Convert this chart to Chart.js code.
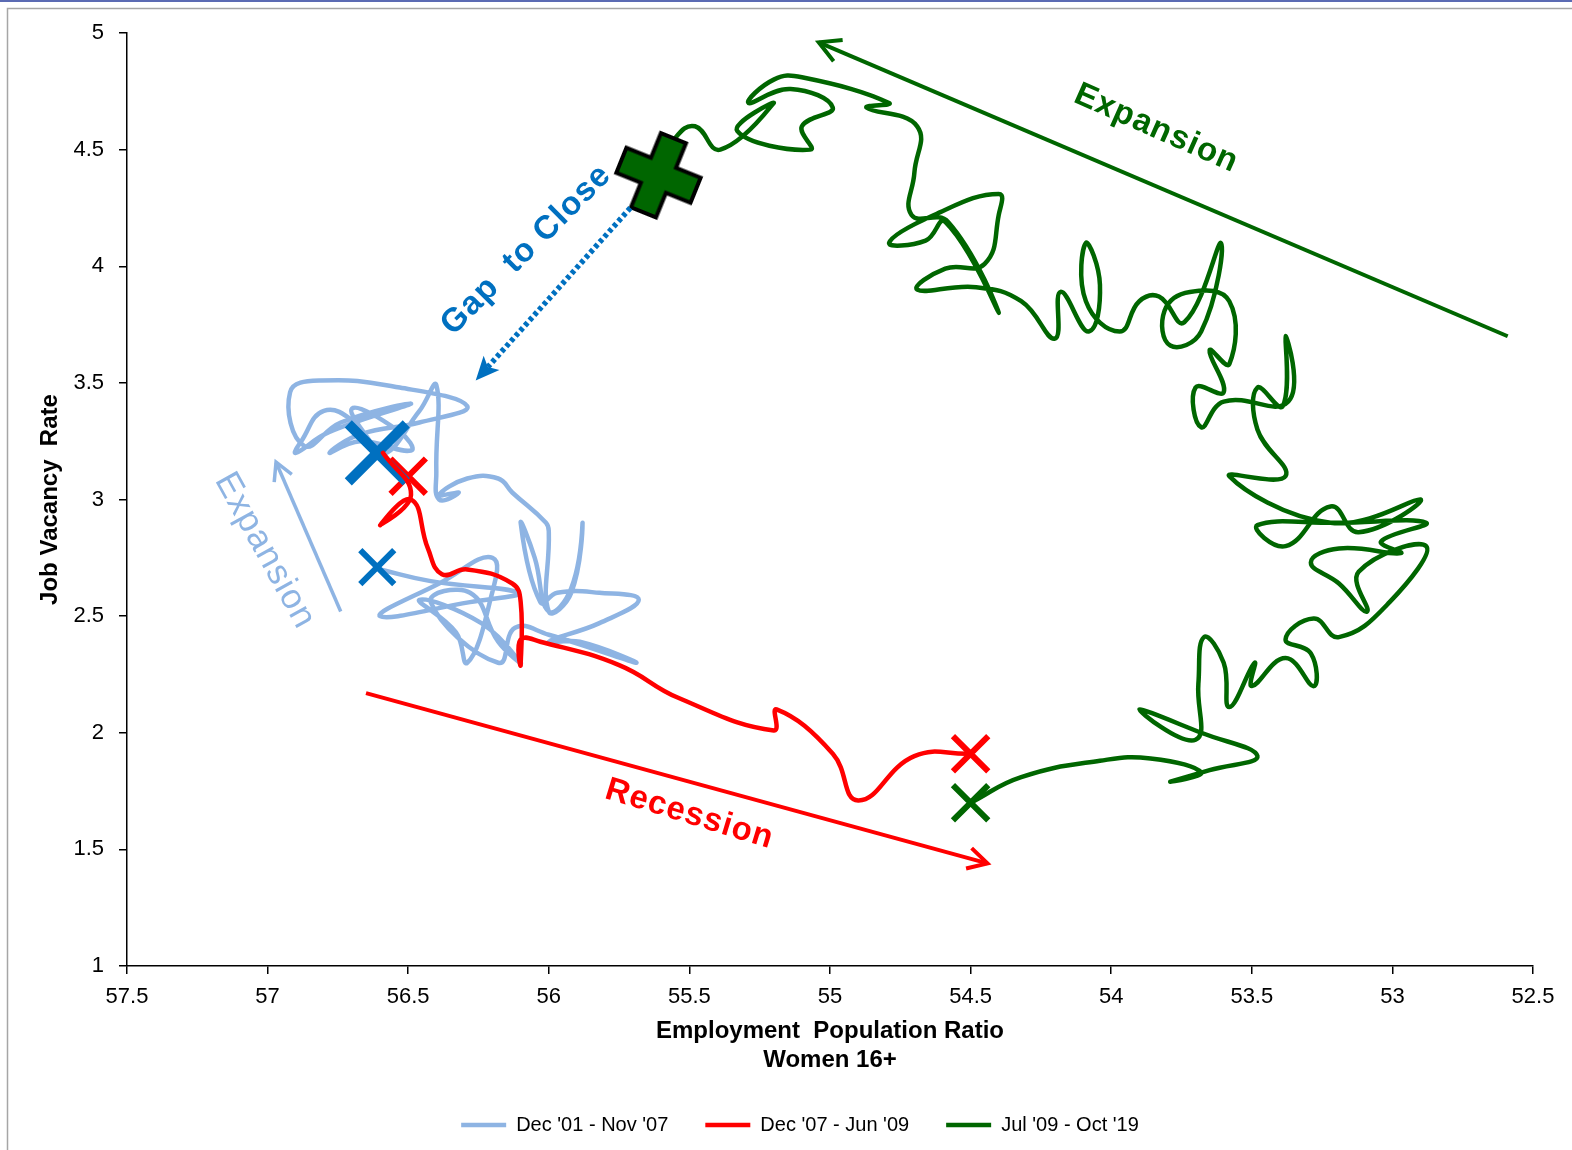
<!DOCTYPE html>
<html>
<head>
<meta charset="utf-8">
<script src="https://cdn.jsdelivr.net/npm/chart.js@4.4.1/dist/chart.umd.min.js"></script>
<style>
html,body{margin:0;padding:0;background:#fff;}
#wrap{width:1572px;height:1150px;position:relative;}
</style>
</head>
<body>
<div id="wrap"><canvas id="c" width="1572" height="1150"></canvas></div>
<script>
// ---------------- DATA ----------------
const xTicks = [57.5, 57, 56.5, 56, 55.5, 55, 54.5, 54, 53.5, 53, 52.5];
const yTicks = [1, 1.5, 2, 2.5, 3, 3.5, 4, 4.5, 5];
const seriesNames = ["Dec '01 - Nov '07", "Dec '07 - Jun '09", "Jul '09 - Oct '19"];

// Dec '01 - Nov '07
const blueEmp = [56.60,56.42,56.11,56.28,56.60,56.39,56.20,56.21,56.29,56.33,56.46,56.24,56.10,56.18,56.28,56.42,56.18,56.12,56.00,55.69,55.89,56.00,55.82,55.68,55.82,55.97,56.03,56.10,56.05,56.00,55.92,55.88,55.92,56.00,56.00,56.01,56.13,56.18,56.29,56.39,56.32,56.39,56.40,56.40,56.46,56.60,56.69,56.80,56.88,56.90,56.78,56.49,56.74,56.87,56.92,56.81,56.53,56.29,56.46,56.67,56.78,56.67,56.49,56.53,56.70,56.61];
const blueVac = [2.70,2.65,2.60,2.56,2.50,2.64,2.75,2.56,2.30,2.43,2.57,2.47,2.30,2.39,2.60,2.56,2.30,2.45,2.42,2.30,2.39,2.39,2.47,2.57,2.60,2.60,2.56,2.90,2.75,2.52,2.62,2.90,2.60,2.52,2.86,2.90,3.03,3.09,3.09,3.02,3.03,3.00,3.12,3.49,3.38,3.19,3.33,3.38,3.25,3.20,3.29,3.41,3.33,3.23,3.46,3.51,3.48,3.40,3.33,3.28,3.20,3.25,3.21,3.29,3.39,3.20];

// Dec '07 - Jun '09
const redEmp = [56.59,56.49,56.60,56.49,56.43,56.38,56.29,56.13,56.10,56.10,56.10,56.03,55.75,55.54,55.20,55.19,54.99,54.90,54.70,54.50];
const redVac = [3.20,3.02,2.89,3.00,2.79,2.68,2.70,2.64,2.56,2.29,2.40,2.39,2.29,2.15,2.01,2.10,1.91,1.71,1.90,1.91];

// Jul '09 - Oct '19
const greenEmp = [54.50,54.32,54.04,53.86,53.68,53.79,53.65,53.48,53.68,53.90,53.70,53.69,53.67,53.60,53.58,53.49,53.50,53.38,53.28,53.29,53.38,53.28,53.19,53.01,52.88,53.12,53.09,53.19,53.29,53.19,52.97,53.04,52.88,53.19,53.48,53.38,53.22,53.12,52.90,53.22,53.58,53.38,53.48,53.48,53.39,53.38,53.37,53.60,53.68,53.70,53.60,53.65,53.58,53.58,53.72,53.81,53.79,53.68,53.61,53.74,53.83,53.90,53.97,54.09,54.09,54.04,54.08,54.18,54.20,54.32,54.48,54.69,54.59,54.45,54.40,54.40,54.63,54.79,54.66,54.59,54.40,54.58,54.71,54.70,54.69,54.87,54.79,55.10,55.20,55.29,55.14,54.99,55.10,55.07,55.33,55.20,55.39,55.48,55.55,55.62];
const greenVac = [1.70,1.81,1.88,1.89,1.83,1.79,1.84,1.90,2.00,2.10,1.97,2.21,2.41,2.30,2.11,2.30,2.20,2.32,2.20,2.34,2.40,2.49,2.41,2.56,2.80,2.69,2.52,2.64,2.73,2.79,2.77,2.82,2.90,2.90,2.89,2.80,2.97,2.86,3.00,2.90,3.10,3.10,3.30,3.48,3.40,3.70,3.42,3.42,3.31,3.48,3.46,3.64,3.58,3.85,3.89,3.81,3.66,3.72,4.10,3.76,3.87,3.85,3.72,3.85,4.10,3.92,3.72,3.89,3.69,3.85,3.91,3.90,3.99,4.01,4.22,4.31,4.22,4.10,4.11,4.19,3.80,4.19,4.22,4.40,4.60,4.68,4.70,4.81,4.80,4.70,4.76,4.68,4.60,4.50,4.58,4.70,4.50,4.60,4.55,4.39];

// highlighted points [employment, vacancy]
const blueStartPt = [56.61, 2.71];
const blueEndPt = [56.61, 3.20];
const redStartPt = [56.50, 3.10];
const redEndPt = [54.50, 1.91];
const greenStartPt = [54.50, 1.70];
const greenNowPt = [55.61, 4.39];

// ---------------- ANNOTATIONS (data space) ----------------
const arrowList = [
  {from:[52.59,3.70], to:[55.04,4.96], color:'#006600', width:4, head:'open', len:24},
  {from:[56.65,2.17], to:[54.44,1.44], color:'#FF0000', width:4, head:'open', len:22},
  {from:[56.74,2.52], to:[56.97,3.16], color:'#8EB4E3', width:3.5, head:'open', len:20},
  {from:[55.71,4.25], to:[56.26,3.51], color:'#0070C0', width:5.5, head:'filled', len:26, dash:[4,3]}
];
const labelList = [
  {text:'Expansion', at:[53.84,4.59], angle:24, color:'#006600', font:'bold 33px "Liberation Sans", Arial, sans-serif'},
  {text:'Recession', at:[55.50,1.65], angle:17, color:'#FF0000', font:'bold 33px "Liberation Sans", Arial, sans-serif'},
  {text:'Gap  to Close', at:[56.08,4.07], angle:-45, color:'#0070C0', font:'bold 33px "Liberation Sans", Arial, sans-serif'},
  {text:'Expansion', at:[57.01,2.78], angle:61, color:'#8EB4E3', font:'35px "Liberation Sans", Arial, sans-serif'}
];

// ---------------- BUILD ----------------
const toPts = (xs, ys) => xs.map((x, i) => ({x, y: ys[i]}));
const pt = p => [{x: p[0], y: p[1]}];

function makePlus() {
  const c = document.createElement('canvas');
  c.width = 100; c.height = 100;
  const g = c.getContext('2d');
  const m = 50, L = 40, W = 13.5;
  g.beginPath();
  g.moveTo(m-W, m-L); g.lineTo(m+W, m-L); g.lineTo(m+W, m-W); g.lineTo(m+L, m-W);
  g.lineTo(m+L, m+W); g.lineTo(m+W, m+W); g.lineTo(m+W, m+L); g.lineTo(m-W, m+L);
  g.lineTo(m-W, m+W); g.lineTo(m-L, m+W); g.lineTo(m-L, m-W); g.lineTo(m-W, m-W);
  g.closePath();
  g.fillStyle = '#006600'; g.fill();
  g.lineWidth = 4; g.strokeStyle = '#000'; g.lineJoin = 'miter'; g.stroke();
  return c;
}

const lineDs = (label, data, color, order) => ({
  label, data, showLine: true, borderColor: color, backgroundColor: color,
  borderWidth: 4.5, pointRadius: 0, pointHoverRadius: 0, tension: 0.45,
  borderCapStyle: 'round', borderJoinStyle: 'round', fill: false, order
});
const markDs = (data, color, r, w, style, rot) => ({
  label: '', data, showLine: false, pointStyle: style, pointRadius: r, pointHoverRadius: r,
  pointBorderColor: color, pointBackgroundColor: color, pointBorderWidth: w, pointHoverBorderWidth: w,
  pointRotation: rot || 0, order: 1
});

const FONT = '"Liberation Sans", Arial, sans-serif';

const annot = {
  id: 'annot',
  beforeDraw(chart) {
    const ctx = chart.ctx;
    ctx.save();
    ctx.fillStyle = '#fff';
    ctx.fillRect(0, 0, chart.width, chart.height);
    ctx.strokeStyle = '#a6a6a6'; ctx.lineWidth = 1.5;
    ctx.beginPath(); ctx.moveTo(7.5, chart.height); ctx.lineTo(7.5, 8.5); ctx.lineTo(chart.width, 8.5); ctx.stroke();
    ctx.strokeStyle = '#5b6bb3'; ctx.lineWidth = 2;
    ctx.beginPath(); ctx.moveTo(0, 1); ctx.lineTo(chart.width, 1); ctx.stroke();
    ctx.restore();
  },
  afterDatasetsDraw(chart) {
    const ctx = chart.ctx, xs = chart.scales.x, ys = chart.scales.y;
    arrowList.forEach(a => {
      const x1 = xs.getPixelForValue(a.from[0]), y1 = ys.getPixelForValue(a.from[1]);
      const x2 = xs.getPixelForValue(a.to[0]), y2 = ys.getPixelForValue(a.to[1]);
      const ang = Math.atan2(y2 - y1, x2 - x1);
      ctx.save();
      ctx.strokeStyle = a.color; ctx.fillStyle = a.color; ctx.lineWidth = a.width;
      ctx.lineCap = 'butt'; ctx.lineJoin = 'miter';
      ctx.setLineDash(a.dash || []);
      ctx.beginPath(); ctx.moveTo(x1, y1);
      if (a.head === 'filled') ctx.lineTo(x2 - Math.cos(ang) * a.len * 0.7, y2 - Math.sin(ang) * a.len * 0.7);
      else ctx.lineTo(x2, y2);
      ctx.stroke();
      ctx.setLineDash([]);
      if (a.head === 'open') {
        ctx.beginPath();
        ctx.moveTo(x2 - a.len * Math.cos(ang - 0.5), y2 - a.len * Math.sin(ang - 0.5));
        ctx.lineTo(x2, y2);
        ctx.lineTo(x2 - a.len * Math.cos(ang + 0.5), y2 - a.len * Math.sin(ang + 0.5));
        ctx.stroke();
      } else {
        ctx.beginPath();
        ctx.moveTo(x2, y2);
        ctx.lineTo(x2 - a.len * Math.cos(ang - 0.42), y2 - a.len * Math.sin(ang - 0.42));
        ctx.lineTo(x2 - a.len * 0.7 * Math.cos(ang), y2 - a.len * 0.7 * Math.sin(ang));
        ctx.lineTo(x2 - a.len * Math.cos(ang + 0.42), y2 - a.len * Math.sin(ang + 0.42));
        ctx.closePath(); ctx.fill();
      }
      ctx.restore();
    });
    labelList.forEach(t => {
      const x = xs.getPixelForValue(t.at[0]), y = ys.getPixelForValue(t.at[1]);
      ctx.save();
      ctx.translate(x, y); ctx.rotate(t.angle * Math.PI / 180);
      ctx.font = t.font; ctx.fillStyle = t.color;
      ctx.textAlign = 'center'; ctx.textBaseline = 'middle';
      try { ctx.letterSpacing = '1px'; } catch (e) {}
      ctx.fillText(t.text, 0, 0);
      ctx.restore();
    });
  }
};

new Chart(document.getElementById('c'), {
  type: 'scatter',
  data: {
    datasets: [
      lineDs(seriesNames[0], toPts(blueEmp, blueVac), '#8EB4E3', 3),
      lineDs(seriesNames[1], toPts(redEmp, redVac), '#FF0000', 0),
      lineDs(seriesNames[2], toPts(greenEmp, greenVac), '#006600', 2),
      markDs(pt(blueStartPt), '#0070C0', 24, 6, 'crossRot'),
      markDs(pt(blueEndPt), '#0070C0', 41, 10, 'crossRot'),
      markDs(pt(redStartPt), '#FF0000', 25, 6, 'crossRot'),
      markDs(pt(redEndPt), '#FF0000', 25, 6, 'crossRot'),
      markDs(pt(greenStartPt), '#006600', 25, 6, 'crossRot'),
      markDs(pt(greenNowPt), '#006600', 10, 1, makePlus(), 22)
    ]
  },
  options: {
    responsive: false,
    animation: false,
    devicePixelRatio: 1,
    events: [],
    layout: { autoPadding: false, padding: { left: 67, right: 39, top: 33, bottom: 5 } },
    scales: {
      x: {
        type: 'linear', reverse: true, min: 52.5, max: 57.5,
        afterBuildTicks: s => { s.ticks = xTicks.map(v => ({value: v})); },
        afterFit: s => { s.height = 112; s.paddingLeft = 0; s.paddingRight = 0; },
        ticks: { callback: v => String(v), color: '#000', font: { family: FONT, size: 22 }, padding: 10, maxRotation: 0 },
        grid: { display: true, drawOnChartArea: false, drawTicks: true, tickLength: 8, color: '#000', lineWidth: 1.5 },
        border: { display: true, color: '#000', width: 1.5 },
        title: { display: true, text: ['Employment  Population Ratio', 'Women 16+'], color: '#000',
                 font: { family: FONT, size: 24, weight: 'bold', lineHeight: 1.2 }, padding: { top: 0, bottom: 3 } }
      },
      y: {
        type: 'linear', min: 1, max: 5,
        afterBuildTicks: s => { s.ticks = yTicks.map(v => ({value: v})); },
        afterFit: s => { s.width = 60; s.paddingTop = 0; s.paddingBottom = 0; },
        ticks: { callback: v => String(v), color: '#000', font: { family: FONT, size: 22 }, padding: 15 },
        grid: { display: true, drawOnChartArea: false, drawTicks: true, tickLength: 8, color: '#000', lineWidth: 1.5 },
        border: { display: true, color: '#000', width: 1.5 },
        title: { display: true, text: 'Job Vacancy  Rate', color: '#000',
                 font: { family: FONT, size: 24, weight: 'bold', lineHeight: 1.2 }, padding: { top: -31.4, bottom: 0 } }
      }
    },
    plugins: {
      legend: {
        display: true, position: 'bottom',
        labels: {
          filter: item => item.datasetIndex < 3,
          sort: (a, b) => a.datasetIndex - b.datasetIndex,
          usePointStyle: true, pointStyle: 'line', pointStyleWidth: 45,
          boxHeight: 20, padding: 37, color: '#000',
          font: { family: FONT, size: 20 }
        }
      },
      tooltip: { enabled: false }
    }
  },
  plugins: [annot]
});
</script>
</body>
</html>
